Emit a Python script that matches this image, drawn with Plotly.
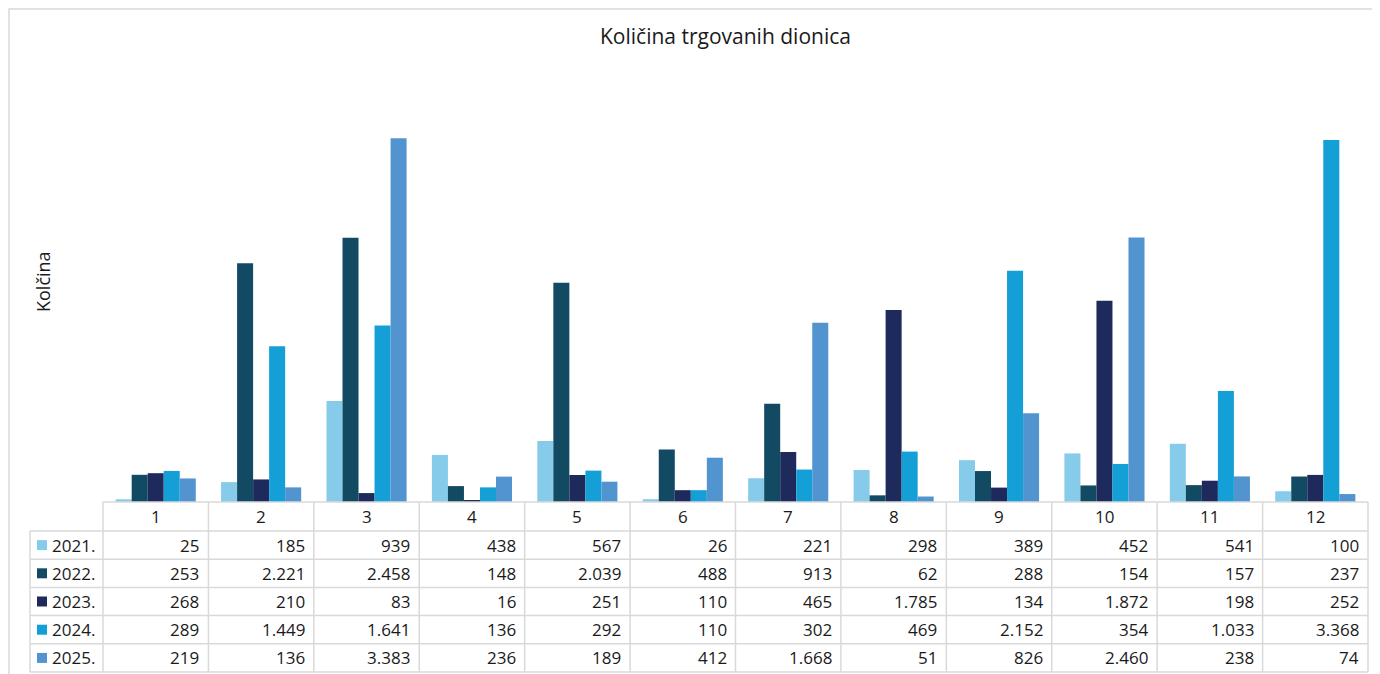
import plotly.graph_objects as go

# ---- data ----
months = ["1", "2", "3", "4", "5", "6", "7", "8", "9", "10", "11", "12"]
series_names = ["2021.", "2022.", "2023.", "2024.", "2025."]
v2021 = [25, 185, 939, 438, 567, 26, 221, 298, 389, 452, 541, 100]
v2022 = [253, 2221, 2458, 148, 2039, 488, 913, 62, 288, 154, 157, 237]
v2023 = [268, 210, 83, 16, 251, 110, 465, 1785, 134, 1872, 198, 252]
v2024 = [289, 1449, 1641, 136, 292, 110, 302, 469, 2152, 354, 1033, 3368]
v2025 = [219, 136, 3383, 236, 189, 412, 1668, 51, 826, 2460, 238, 74]
series_values = [v2021, v2022, v2023, v2024, v2025]
colors = ["#86CBEA", "#134A63", "#1F2A5C", "#149FD6", "#5294CF"]

title_text = "Količina trgovanih dionica"
y_title = "Kolčina"

# ---- layout geometry (screen pixels) ----
OFF = 8                      # page body margin
W, H = 1380 - OFF, 674 - OFF  # figure size so it fits the window
plot_l, plot_r = 103, 1368
plot_t, plot_b = 72, 502
tab_l = 30
row_h = 28.2
header_h = 29
grid_col = "#D9D9D9"
font_fam = "Open Sans, sans-serif"
text_col = "#1a1a1a"


def px(x):
    return (x - OFF) / W


def py(y):
    return 1 - (y - OFF) / H


fig = go.Figure()
for name, vals, c in zip(series_names, series_values, colors):
    fig.add_trace(go.Bar(x=months, y=vals, name=name, marker=dict(color=c, line=dict(width=0)),
                         showlegend=False))

shapes = []
annotations = []

# outer border
shapes.append(dict(type="rect", xref="paper", yref="paper", x0=px(9), x1=px(1380.5), y0=py(675), y1=py(9),
                   line=dict(color="#D9D9D9", width=1.5), fillcolor="rgba(0,0,0,0)"))

ncol = len(months)
cw = (plot_r - plot_l) / ncol
tab_top = plot_b
rows_top = tab_top + header_h
tab_bot = rows_top + row_h * len(series_names)

# horizontal lines
shapes.append(dict(type="line", xref="paper", yref="paper", x0=px(plot_l), x1=px(plot_r), y0=py(tab_top), y1=py(tab_top),
                   line=dict(color=grid_col, width=1.5)))
for i in range(len(series_names) + 1):
    y = rows_top + i * row_h
    shapes.append(dict(type="line", xref="paper", yref="paper", x0=px(tab_l), x1=px(plot_r), y0=py(y), y1=py(y),
                       line=dict(color=grid_col, width=1.5)))
# vertical lines
shapes.append(dict(type="line", xref="paper", yref="paper", x0=px(tab_l), x1=px(tab_l), y0=py(rows_top), y1=py(tab_bot),
                   line=dict(color=grid_col, width=1.5)))
for j in range(ncol + 1):
    x = plot_l + j * cw
    shapes.append(dict(type="line", xref="paper", yref="paper", x0=px(x), x1=px(x), y0=py(tab_top), y1=py(tab_bot),
                       line=dict(color=grid_col, width=1.5)))

# header labels
for j, m in enumerate(months):
    annotations.append(dict(xref="paper", yref="paper", x=px(plot_l + (j + 0.5) * cw), y=py(tab_top + header_h / 2),
                            text=m, showarrow=False, xanchor="center", yanchor="middle",
                            font=dict(size=17, color=text_col, family=font_fam)))


def fmt(v):
    return f"{v:,}".replace(",", ".")


for i, (name, vals, c) in enumerate(zip(series_names, series_values, colors)):
    yc = rows_top + (i + 0.5) * row_h
    shapes.append(dict(type="rect", xref="paper", yref="paper", x0=px(37), x1=px(47), y0=py(yc + 5), y1=py(yc - 5),
                       fillcolor=c, line=dict(width=0)))
    annotations.append(dict(xref="paper", yref="paper", x=px(50), y=py(yc), text=name, showarrow=False,
                            xanchor="left", yanchor="middle", font=dict(size=17, color=text_col, family=font_fam)))
    for j, v in enumerate(vals):
        annotations.append(dict(xref="paper", yref="paper", x=px(plot_l + (j + 1) * cw - 7), y=py(yc), text=fmt(v),
                                showarrow=False, xanchor="right", yanchor="middle",
                                font=dict(size=17, color=text_col, family=font_fam)))

# titles
annotations.append(dict(xref="paper", yref="paper", x=px(725), y=py(36), text=title_text, showarrow=False,
                        xanchor="center", yanchor="middle", font=dict(size=21, color=text_col, family=font_fam)))
annotations.append(dict(xref="paper", yref="paper", x=px(43), y=py(282), text=y_title, showarrow=False, textangle=-90,
                        xanchor="center", yanchor="middle", font=dict(size=18, color=text_col, family=font_fam)))

fig.update_layout(
    width=W, height=H,
    margin=dict(l=0, r=0, t=0, b=0),
    paper_bgcolor="white", plot_bgcolor="white",
    barmode="group", bargap=0.24, bargroupgap=0,
    xaxis=dict(domain=[px(plot_l), px(plot_r)], showticklabels=False, showgrid=False, zeroline=False,
               showline=False, ticks=""),
    yaxis=dict(domain=[py(plot_b), py(plot_t)], range=[0, 4000], showticklabels=False, showgrid=False,
               zeroline=False, showline=False, ticks=""),
    shapes=shapes, annotations=annotations,
    font=dict(family=font_fam),
)

fig.write_html("out.html")
